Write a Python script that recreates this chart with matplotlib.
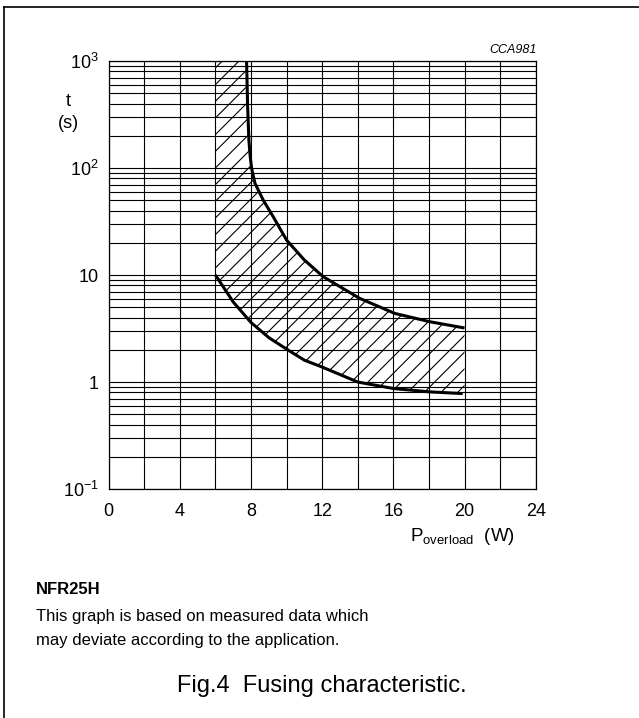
import matplotlib.pyplot as plt
from matplotlib.lines import Line2D
from matplotlib.ticker import LogLocator, NullFormatter, FixedLocator

plt.rcParams['font.family'] = ['Liberation Sans', 'DejaVu Sans']
plt.rcParams['mathtext.fontset'] = 'custom'
plt.rcParams['mathtext.rm'] = 'Liberation Sans'
plt.rcParams['mathtext.it'] = 'Liberation Sans:italic'
plt.rcParams['hatch.linewidth'] = 0.8

# upper boundary of fusing band
upper_p = [7.75, 7.81, 7.88, 7.95, 8.03, 8.22, 8.69, 9.25, 10.0, 11.0, 12.06, 14.1, 16.08, 18.05, 20.0]
upper_t = [1000, 374, 183, 130, 100, 72, 50, 35, 21.2, 13.8, 9.64, 6.06, 4.38, 3.66, 3.2]

# lower boundary
lower_p = [6.0, 7.0, 8.0, 9.0, 10.0, 11.0, 12.0, 14.0, 16.0, 18.0, 19.9]
lower_t = [10.0, 5.6, 3.6, 2.6, 2.03, 1.6, 1.38, 1.0, 0.87, 0.81, 0.78]

band_left = 6.0
band_right = 20.0

xticks = [0, 4, 8, 12, 16, 20, 24]
yticks = [0.1, 1, 10, 100, 1000]
ylabels = [r'$\mathregular{10^{-1}}$', '1', '10', r'$\mathregular{10^2}$', r'$\mathregular{10^3}$']

fig = plt.figure(figsize=(6.39, 7.18), dpi=100)
ax = fig.add_axes([0.1701, 0.3189, 0.6682, 0.5961])

# hatched band
poly_p = [band_left] + upper_p + [band_right] + lower_p[::-1]
poly_t = [upper_t[0]] + upper_t + [lower_t[-1]] + lower_t[::-1]
ax.fill(poly_p, poly_t, facecolor='none', edgecolor='black', hatch='//', linewidth=0)

ax.plot(upper_p, upper_t, color='black', linewidth=2.2, solid_capstyle='butt')
ax.plot(lower_p, lower_t, color='black', linewidth=2.2, solid_capstyle='butt')

ax.set_yscale('log')
ax.set_xlim(0, 24)
ax.set_ylim(0.1, 1000)
ax.set_xticks(xticks)
ax.xaxis.set_minor_locator(FixedLocator([2, 6, 10, 14, 18, 22]))
ax.set_yticks(yticks)
ax.set_yticklabels(ylabels)
ax.yaxis.set_minor_locator(LogLocator(base=10, subs=range(2, 10)))
ax.yaxis.set_minor_formatter(NullFormatter())
ax.grid(True, which='both', color='black', linewidth=0.8)
ax.set_axisbelow(True)
ax.tick_params(which='both', length=0, labelsize=13)
ax.tick_params(axis='x', pad=10)
ax.tick_params(axis='y', pad=7)
for s in ax.spines.values():
    s.set_linewidth(0.9)

fig.text(68 / 639, 1 - 102 / 718, 't', fontsize=13, ha='center', va='center')
fig.text(68 / 639, 1 - 123 / 718, '(s)', fontsize=13, ha='center', va='center')
fig.text(410 / 639, 1 - 541 / 718, r'P$_{\mathregular{overload}}$  (W)', fontsize=13.5, ha='left', va='baseline')
fig.text(537 / 639, 1 - 50 / 718, 'CCA981', fontsize=9, style='italic', ha='right', va='center')

fig.text(36 / 639, 1 - 589 / 718, 'NFR25H', fontsize=12, fontweight='bold', ha='left', va='center')
fig.text(36 / 639, 1 - 617 / 718, 'This graph is based on measured data which', fontsize=12, ha='left', va='center')
fig.text(36 / 639, 1 - 640 / 718, 'may deviate according to the application.', fontsize=12, ha='left', va='center')
fig.text(322 / 639, 1 - 686 / 718, 'Fig.4  Fusing characteristic.', fontsize=17, ha='center', va='center')

# frame (left and top edges)
fig.add_artist(Line2D([4 / 639, 4 / 639], [0, 1 - 7 / 718], color='black', linewidth=1.2, transform=fig.transFigure))
fig.add_artist(Line2D([4 / 639, 1], [1 - 7 / 718, 1 - 7 / 718], color='black', linewidth=1.2, transform=fig.transFigure))

fig.savefig('out.png', dpi=100)
